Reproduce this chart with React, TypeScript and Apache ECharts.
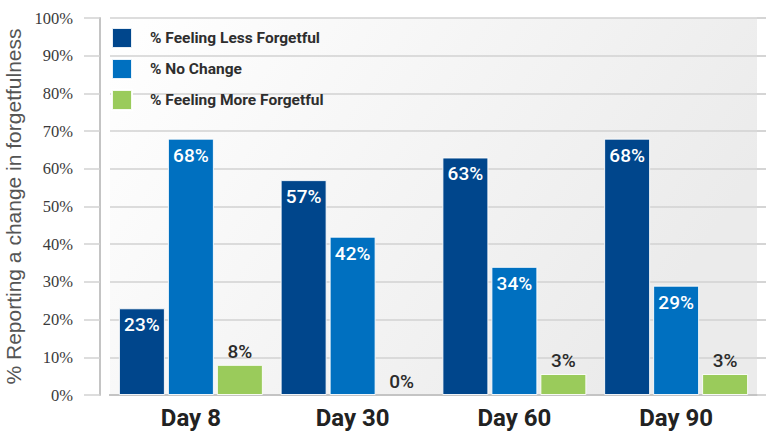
import React, { useEffect, useRef } from "react";
import * as echarts from "echarts";

const categories = ["Day 8", "Day 30", "Day 60", "Day 90"];
const lessForgetful = [23, 57, 63, 68];
const noChange = [68, 42, 34, 29];
const moreForgetful = [8, 0, 3, 3];
const seriesNames = ["% Feeling Less Forgetful", "% No Change", "% Feeling More Forgetful"];
const seriesColors = ["#00468c", "#0070c0", "#9acb5b"];
const yMin = 0;
const yMax = 100;
const yInterval = 10;
const yAxisTitle = "% Reporting a change in forgetfulness";

const NARROW = 'Roboto, "Liberation Sans Narrow", sans-serif';

export default function App() {
  const ref = useRef<HTMLDivElement>(null);
  useEffect(() => {
    document.body.style.margin = "0";
    const chart = echarts.init(ref.current!, null, { renderer: "svg" });
    const gridTickColor = "#d2d2d2";
    const insideLabel = {
      show: true,
      position: "insideTop",
      distance: 7,
      color: "#ffffff",
      fontFamily: NARROW,
      fontWeight: 500,
      fontSize: 19,
      formatter: "{c}%",
    };
    const barBase = {
      type: "bar",
      barWidth: 46,
      barGap: "6.5%",
      itemStyle: { borderColor: "rgba(255,255,255,0.9)", borderWidth: 1 },
    };
    const minBar = 21;
    const greenData = moreForgetful.map((v) =>
      v === 0
        ? {
            value: v,
            itemStyle: { color: "rgba(0,0,0,0)", borderColor: "rgba(0,0,0,0)" },
            label: { offset: [0, minBar] },
          }
        : v
    );
    chart.setOption({
      animation: false,
      backgroundColor: "#ffffff",
      grid: {
        left: 110,
        right: 9,
        top: 18,
        bottom: 37,
        outerBoundsMode: "none",
        containLabel: false,
        show: true,
        borderWidth: 0,
        backgroundColor: new echarts.graphic.LinearGradient(0, 0, 1, 0.4, [
          { offset: 0, color: "#ffffff" },
          { offset: 1, color: "#ebebeb" },
        ]),
      },
      legend: {
        orient: "vertical",
        left: 111,
        top: 27,
        padding: 0,
        itemWidth: 20,
        itemHeight: 20,
        itemGap: 9,
        icon: "rect",
        data: seriesNames,
        textStyle: {
          fontFamily: NARROW,
          fontWeight: "bold",
          fontSize: 15.5,
          color: "#2e2e2e",
          padding: [0, 0, 0, 13],
        },
      },
      xAxis: [
        {
          type: "category",
          data: categories,
          axisLine: { lineStyle: { color: "#b8b8b8", width: 2 } },
          axisTick: { show: false },
          axisLabel: {
            fontFamily: NARROW,
            fontWeight: "bold",
            fontSize: 24,
            color: "#222222",
            margin: 11,
          },
        },
        {
          type: "category",
          position: "top",
          data: categories,
          axisLine: { lineStyle: { color: "#c4c4c4", width: 2 } },
          axisTick: { show: false },
          axisLabel: { show: false },
        },
      ],
      yAxis: [
        {
          type: "value",
          min: yMin,
          max: yMax,
          interval: yInterval,
          offset: 10,
          name: yAxisTitle,
          nameLocation: "middle",
          nameGap: 71,
          nameTextStyle: {
            fontFamily: '"Liberation Sans", Arial, sans-serif',
            fontSize: 21,
            color: "#555555",
          },
          axisLine: { show: true, lineStyle: { color: "#c4c4c4", width: 2 } },
          axisTick: { show: true, length: 16, lineStyle: { color: gridTickColor, width: 1.5 } },
          axisLabel: {
            formatter: "{value}%",
            fontFamily: '"Liberation Serif", "Times New Roman", serif',
            fontSize: 16.5,
            color: "#3a3a3a",
            margin: 27,
          },
          splitLine: { show: true, lineStyle: { color: gridTickColor, width: 1.5 } },
        },
        {
          type: "value",
          min: yMin,
          max: yMax,
          interval: yInterval,
          offset: 10,
          axisLine: { show: false },
          axisTick: { show: true, inside: true, length: 10, lineStyle: { color: gridTickColor, width: 1.5 } },
          axisLabel: { show: false },
          splitLine: { show: false },
        },
        {
          type: "value",
          position: "right",
          min: yMin,
          max: yMax,
          interval: yInterval,
          offset: 10,
          axisLine: { show: false },
          axisTick: { show: true, inside: true, length: 10, lineStyle: { color: gridTickColor, width: 1.5 } },
          axisLabel: { show: false },
          splitLine: { show: false },
        },
      ],
      series: [
        {
          ...barBase,
          name: seriesNames[0],
          data: lessForgetful,
          itemStyle: { ...barBase.itemStyle, color: seriesColors[0] },
          label: insideLabel,
        },
        {
          ...barBase,
          name: seriesNames[1],
          data: noChange,
          itemStyle: { ...barBase.itemStyle, color: seriesColors[1] },
          label: insideLabel,
        },
        {
          ...barBase,
          name: seriesNames[2],
          data: greenData,
          barMinHeight: minBar,
          itemStyle: { ...barBase.itemStyle, color: seriesColors[2] },
          label: {
            show: true,
            position: "top",
            distance: 4,
            color: "#2b2b2b",
            fontFamily: NARROW,
            fontWeight: 500,
            fontSize: 19,
            formatter: "{c}%",
          },
        },
      ],
    });
    return () => chart.dispose();
  }, []);
  return <div ref={ref} style={{ width: 766, height: 432 }} />;
}
